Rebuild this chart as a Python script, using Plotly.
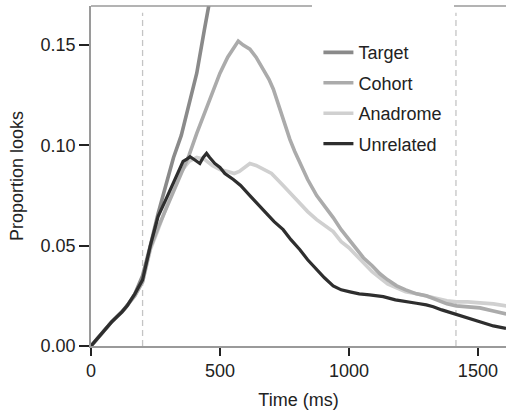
import plotly.graph_objects as go

# ---- data ----
target_t = [0, 40, 80, 120, 140, 170, 200, 230, 260, 290, 320, 350, 380, 410, 440, 460, 500, 600, 800, 1000, 1200, 1400, 1610]
target_y = [0, 0.006, 0.012, 0.017, 0.020, 0.026, 0.035, 0.050, 0.066, 0.080, 0.094, 0.105, 0.120, 0.136, 0.158, 0.172, 0.20, 0.27, 0.42, 0.55, 0.62, 0.66, 0.68]

cohort_t = [0, 40, 80, 120, 140, 170, 200, 230, 260, 290, 320, 350, 380, 410, 440, 470, 500, 530, 555, 571, 590, 616, 640, 668, 690, 707, 730, 745, 771, 790, 810, 840, 875, 905, 939, 970, 1000, 1030, 1056, 1090, 1120, 1150, 1185, 1220, 1262, 1300, 1340, 1380, 1417, 1460, 1508, 1560, 1610]
cohort_y = [0, 0.006, 0.012, 0.017, 0.020, 0.025, 0.032, 0.049, 0.059, 0.068, 0.077, 0.085, 0.095, 0.106, 0.116, 0.127, 0.136, 0.144, 0.149, 0.152, 0.150, 0.148, 0.144, 0.138, 0.133, 0.128, 0.119, 0.113, 0.103, 0.097, 0.091, 0.083, 0.075, 0.070, 0.064, 0.058, 0.053, 0.048, 0.044, 0.040, 0.036, 0.033, 0.030, 0.028, 0.026, 0.025, 0.023, 0.021, 0.020, 0.0195, 0.019, 0.0175, 0.016]

anadrome_t = [0, 40, 80, 120, 140, 170, 200, 230, 260, 290, 320, 350, 380, 410, 440, 470, 500, 530, 555, 575, 595, 616, 640, 668, 700, 745, 780, 810, 840, 875, 905, 939, 970, 1000, 1030, 1060, 1090, 1120, 1150, 1185, 1220, 1262, 1300, 1340, 1380, 1417, 1460, 1508, 1560, 1610]
anadrome_y = [0, 0.006, 0.012, 0.017, 0.020, 0.025, 0.032, 0.048, 0.058, 0.068, 0.079, 0.087, 0.092, 0.094, 0.093, 0.090, 0.088, 0.087, 0.086, 0.087, 0.089, 0.091, 0.090, 0.088, 0.086, 0.080, 0.075, 0.071, 0.067, 0.063, 0.060, 0.057, 0.052, 0.049, 0.045, 0.041, 0.037, 0.034, 0.031, 0.029, 0.027, 0.026, 0.025, 0.024, 0.0225, 0.022, 0.022, 0.0215, 0.021, 0.020]

unrelated_t = [0, 40, 80, 120, 140, 170, 200, 230, 260, 290, 318, 340, 357, 370, 384, 400, 422, 435, 448, 460, 480, 500, 519, 552, 580, 616, 650, 681, 710, 745, 775, 810, 840, 875, 905, 939, 970, 1004, 1040, 1080, 1133, 1180, 1220, 1262, 1300, 1327, 1360, 1390, 1417, 1460, 1490, 1521, 1560, 1609]
unrelated_y = [0, 0.006, 0.012, 0.017, 0.020, 0.026, 0.033, 0.050, 0.0645, 0.073, 0.081, 0.088, 0.092, 0.093, 0.0944, 0.093, 0.091, 0.094, 0.096, 0.094, 0.091, 0.089, 0.086, 0.083, 0.080, 0.075, 0.070, 0.066, 0.062, 0.058, 0.053, 0.048, 0.043, 0.038, 0.034, 0.030, 0.028, 0.027, 0.026, 0.0255, 0.0246, 0.023, 0.022, 0.0213, 0.0205, 0.0196, 0.018, 0.0168, 0.0155, 0.0138, 0.0125, 0.0113, 0.010, 0.0088]

series_names = ["Target", "Cohort", "Anadrome", "Unrelated"]
series_colors = ["#8a8a8a", "#ababab", "#d0d0d0", "#2e2e2e"]
x_ticks = [0, 500, 1000, 1500]
y_ticks = [0, 0.05, 0.10, 0.15]
event_markers = [200, 1415]
x_range = [0, 1609]
y_range = [0, 0.1695]

FONT = "Liberation Sans, Arial, Helvetica, sans-serif"

fig = go.Figure()
series = {
    "Target": (target_t, target_y),
    "Cohort": (cohort_t, cohort_y),
    "Anadrome": (anadrome_t, anadrome_y),
    "Unrelated": (unrelated_t, unrelated_y),
}
draw_order = ["Anadrome", "Cohort", "Target", "Unrelated"]
for name in draw_order:
    i = series_names.index(name)
    t, y = series[name]
    fig.add_trace(go.Scatter(
        x=t, y=y, mode="lines", name=name,
        line=dict(color=series_colors[i], width=3.6 if name != "Unrelated" else 3.2),
        legendrank=i + 1, legendgroup=name,
    ))

shapes = []
for ev in event_markers:
    shapes.append(dict(type="line", xref="x", yref="paper", x0=ev, x1=ev, y0=0, y1=0.98,
                       line=dict(color="#c4c4c4", width=1.3, dash="6px,4px"), layer="below"))
# top frame segments (interrupted by the legend area)
shapes.append(dict(type="line", xref="paper", yref="paper", x0=0, x1=0.5325, y0=1, y1=1,
                   line=dict(color="#9a9a9a", width=1.5)))
shapes.append(dict(type="line", xref="paper", yref="paper", x0=0.8747, x1=1, y0=1, y1=1,
                   line=dict(color="#9a9a9a", width=1.5)))

fig.update_layout(
    width=506, height=412,
    margin=dict(l=91, r=0, t=6, b=66),
    paper_bgcolor="white", plot_bgcolor="white",
    font=dict(family=FONT, size=18, color="#222222"),
    showlegend=True,
    legend=dict(x=0.548, y=0.917, xanchor="left", yanchor="top",
                bgcolor="rgba(0,0,0,0)", traceorder="grouped", tracegroupgap=4,
                font=dict(size=18, color="#222222"), itemwidth=30),
    shapes=shapes,
    xaxis=dict(range=x_range, tickvals=x_ticks, ticktext=[str(v) for v in x_ticks],
               showgrid=False, zeroline=False, showline=True, linecolor="#9a9a9a", linewidth=1.5,
               ticks="outside", ticklen=8, tickwidth=1.5, tickcolor="#222222",
               title=dict(text="Time (ms)", standoff=13, font=dict(size=18))),
    yaxis=dict(range=y_range, tickvals=y_ticks, ticktext=["%.2f" % v for v in y_ticks],
               showgrid=False, zeroline=False, showline=True, linecolor="#9a9a9a", linewidth=1.5,
               ticks="outside", ticklen=10, tickwidth=1.5, tickcolor="#222222",
               title=dict(text="Proportion looks", standoff=12, font=dict(size=18))),
)

fig.write_html("out.html", config={"displayModeBar": False},
               post_script="document.body.style.margin='0';document.body.style.overflow='hidden';")
